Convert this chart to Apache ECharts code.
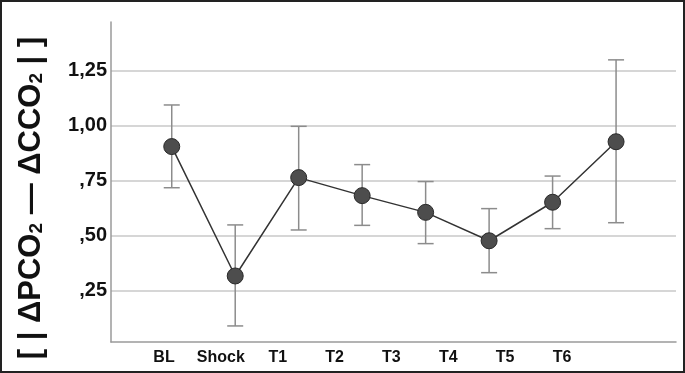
<!DOCTYPE html>
<html><head><meta charset="utf-8">
<script src="https://cdn.jsdelivr.net/npm/echarts@6/dist/echarts.min.js"></script>
<style>html,body{margin:0;padding:0;background:#fff}#c{width:685px;height:373px}</style>
</head><body><div id="c"></div>
<script>
const categories = ['BL','Shock','T1','T2','T3','T4','T5','T6'];
const means = [0.904, 0.316, 0.763, 0.681, 0.605, 0.476, 0.651, 0.926];
const upper = [1.093, 0.548, 0.996, 0.822, 0.745, 0.622, 0.770, 1.298];
const lower = [0.717, 0.089, 0.525, 0.546, 0.463, 0.331, 0.531, 0.558];
const yTicks = [0.25, 0.5, 0.75, 1.0, 1.25];
const yMin = 0.016, yMax = 1.47;

const chart = echarts.init(document.getElementById('c'));
const fmt = v => { const s = v.toFixed(2).replace('.', ','); return s.startsWith('0') ? s.slice(1) : s; };
const FF = 'Liberation Sans, Arial, sans-serif';

const titleText = '[ | ΔPCO{sub|2} — ΔCCO{sub|2} | ]';
const base = {fontWeight: 'bold', fontFamily: FF, fill: '#111', color: '#111'};

const option = {
  backgroundColor: '#fff',
  animation: false,
  grid: [
    {left: 111, right: 9, top: 22, bottom: 31},
    {left: 140, right: 37.2, top: 22, bottom: 31},
    {left: 135.6, right: 94.6, top: 22, bottom: 31}
  ],
  xAxis: [
    {gridIndex: 0, type: 'category', data: categories, boundaryGap: true,
     axisLine: {show: true, lineStyle: {color: '#9a9a9a', width: 1.5}},
     axisTick: {show: false}, axisLabel: {show: false}, splitLine: {show: false}},
    {gridIndex: 1, type: 'category', data: categories, boundaryGap: true,
     axisLine: {show: false}, axisTick: {show: false}, axisLabel: {show: false}},
    {gridIndex: 2, type: 'category', data: categories, boundaryGap: true,
     axisLine: {show: false}, axisTick: {show: false},
     axisLabel: {show: true, interval: 0, hideOverlap: false, color: '#111', fontWeight: 'bold', fontSize: 16,
       fontFamily: FF, margin: 8}}
  ],
  yAxis: [
    {gridIndex: 0, type: 'value', min: yMin, max: yMax,
     axisLine: {show: true, lineStyle: {color: '#9a9a9a', width: 1.5}},
     axisTick: {show: false, customValues: yTicks},
     axisLabel: {show: true, customValues: yTicks, formatter: fmt, color: '#111',
       fontWeight: 'bold', fontSize: 20, fontFamily: FF, margin: 4},
     splitLine: {show: true, lineStyle: {color: '#c8c8c8', width: 1.5}}},
    {gridIndex: 1, type: 'value', min: yMin, max: yMax, show: false},
    {gridIndex: 2, type: 'value', min: yMin, max: yMax, show: false}
  ],
  series: [
    {type: 'custom', xAxisIndex: 1, yAxisIndex: 1,
     data: categories.map((c, i) => [i, lower[i], upper[i]]),
     renderItem: (params, api) => {
       const lo = api.coord([api.value(0), api.value(1)]);
       const hi = api.coord([api.value(0), api.value(2)]);
       const hw = 8;
       const st = {stroke: '#8c8c8c', lineWidth: 1.5};
       return {type: 'group', children: [
         {type: 'line', shape: {x1: lo[0], y1: lo[1], x2: hi[0], y2: hi[1]}, style: st},
         {type: 'line', shape: {x1: lo[0]-hw, y1: lo[1], x2: lo[0]+hw, y2: lo[1]}, style: st},
         {type: 'line', shape: {x1: hi[0]-hw, y1: hi[1], x2: hi[0]+hw, y2: hi[1]}, style: st}
       ]};
     }, z: 2},
    {type: 'line', xAxisIndex: 1, yAxisIndex: 1, data: means,
     symbol: 'circle', symbolSize: 16,
     lineStyle: {color: '#333', width: 1.5},
     itemStyle: {color: '#4d4d4d', borderColor: '#2a2a2a', borderWidth: 1}, z: 3}
  ],
  graphic: [
    {type: 'text', x: 31, y: 198, rotation: Math.PI / 2,
     style: {text: titleText, align: 'center', verticalAlign: 'middle',
       fill: '#111', font: 'bold 31px ' + FF,
       rich: {
         sub: Object.assign({fontSize: 19, padding: [11, 0, 0, 0]}, base)
       }}, z: 50},
    {type: 'rect', shape: {x: 1, y: 1, width: 683, height: 371},
     style: {fill: 'none', stroke: '#222', lineWidth: 2}, z: 100}
  ]
};
chart.setOption(option);
</script></body></html>
